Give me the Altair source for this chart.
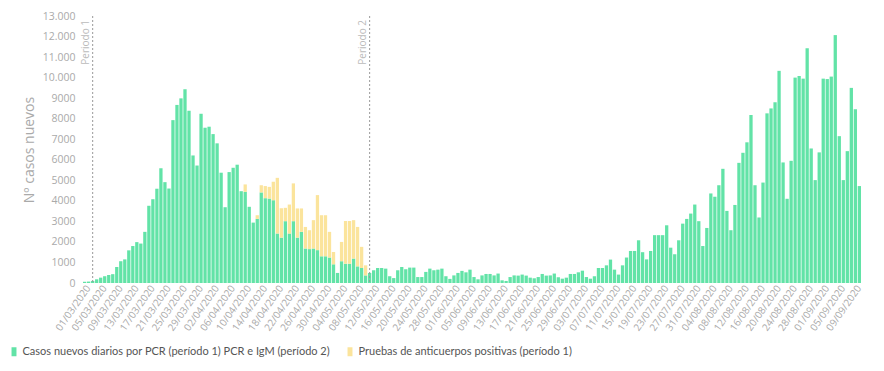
import altair as alt
import pandas as pd

# categories: one bar per day, 29/02/2020 .. 09/09/2020
fechas = [d.strftime("%d/%m/%Y") for d in pd.date_range("2020-02-29", "2020-09-09", freq="D")]
etiquetas = fechas[1::4]
ticks_y = list(range(0, 13001, 1000))

pcr = [
    60, 70, 100, 180, 260, 330, 390, 430, 780, 1060,
    1150, 1590, 1800, 1990, 1920, 2490, 3760, 4080, 4590, 5590,
    4910, 4600, 7930, 8670, 8990, 9430, 8390, 6210, 5720, 8240,
    7560, 7610, 7250, 6800, 5370, 3690, 5400, 5610, 5760, 4470,
    4440, 3710, 2940, 3120, 4410, 4130, 4110, 4030, 2410, 2210,
    3010, 2410, 3010, 2210, 2490, 1680, 1650, 1680, 1600, 1300,
    1300, 1240, 910, 490, 1060, 940, 940, 1190, 810, 730,
    370, 490, 620, 730, 730, 700, 330, 240, 620, 780,
    670, 750, 750, 290, 290, 540, 700, 620, 650, 700,
    330, 200, 370, 490, 590, 520, 650, 290, 180, 370,
    440, 440, 370, 460, 130, 100, 290, 370, 360, 410,
    360, 260, 230, 290, 440, 360, 370, 460, 280, 210,
    260, 440, 440, 520, 600, 290, 210, 330, 730, 730,
    860, 1140, 650, 410, 860, 1240, 1560, 1560, 2080, 1500,
    1150, 1560, 2330, 2330, 2330, 2810, 1720, 1400, 2080, 2890,
    3120, 3380, 3820, 3010, 1800, 2680, 4360, 4200, 4760, 5560,
    3510, 2570, 3800, 5850, 6340, 6850, 8180, 4760, 3190, 4890,
    8260, 8500, 8800, 10330, 5870, 4100, 5950, 10000, 10080, 9950,
    11430, 6550, 5010, 6360, 9950, 9930, 10050, 12070, 7150, 5010,
    6420, 9500, 8460, 4720,
]

anticuerpos = [0] * len(fechas)
anticuerpos_p1 = {
    40: 360, 43: 180, 44: 350, 45: 590, 46: 570, 47: 900, 48: 2710, 49: 1430,
    50: 650, 51: 1410, 52: 1840, 53: 1420, 54: 1140, 55: 1050, 56: 920,
    57: 1380, 58: 2680, 59: 2000, 60: 2000, 61: 1250, 62: 600, 64: 940,
    65: 2080, 66: 2080, 67: 1870, 68: 1920, 69: 1030, 70: 490,
}
for k, v in anticuerpos_p1.items():
    anticuerpos[k] = v

periodos = ["Periodo 1", "Periodo 2"]
periodo_fechas = ["02/03/2020", "10/05/2020"]

S1 = "Casos nuevos diarios por PCR (período 1) PCR e IgM (período 2)"
S2 = "Pruebas de anticuerpos positivas (período 1)"
VERDE = "#62e3a7"
AMARILLO = "#fbe49c"

rows = []
for i, f in enumerate(fechas):
    rows.append({"fecha": f, "serie": S1, "valor": pcr[i], "orden": 0})
    rows.append({"fecha": f, "serie": S2, "valor": anticuerpos[i], "orden": 1})
df = pd.DataFrame(rows)
df_p = pd.DataFrame({"fecha": periodo_fechas, "texto": periodos})

xscale = alt.Scale(domain=fechas, paddingInner=0.18, paddingOuter=0.0)
yscale = alt.Scale(domain=[0, 13000], nice=False)

xaxis = alt.Axis(values=etiquetas, labelAngle=305, title=None, domain=False,
                 ticks=False, labelColor="#aaaaaa", labelFontSize=10,
                 labelFont="Open Sans", labelPadding=3)
yaxis = alt.Axis(values=ticks_y, labelOverlap=False,
                 labelExpr="datum.value >= 10000 ? replace(format(datum.value, ','), ',', '.') : format(datum.value, 'd')",
                 grid=False, domain=False, ticks=False,
                 title="Nº casos nuevos", titleFontSize=14, titleFontWeight="normal",
                 titleColor="#aaaaaa", titleFont="Open Sans", titlePadding=6,
                 labelColor="#aaaaaa", labelFontSize=10.5, labelFont="Open Sans",
                 labelPadding=8)

bars = alt.Chart(df).mark_bar().encode(
    x=alt.X("fecha:N", scale=xscale, sort=None, axis=xaxis),
    y=alt.Y("valor:Q", stack="zero", scale=yscale, axis=yaxis),
    color=alt.Color("serie:N", scale=alt.Scale(domain=[S1, S2], range=[VERDE, AMARILLO]),
                    legend=alt.Legend(title=None, orient="none", direction="horizontal",
                                      legendX=-74.5, legendY=330,
                                      symbolType="M-0.55,-1H0.55V1H-0.55Z", symbolSize=81,
                                      symbolStrokeWidth=0, labelFontSize=11, labelFont="Lato",
                                      labelColor="#555555", labelLimit=0, labelOffset=3,
                                      columnPadding=14)),
    order=alt.Order("orden:Q"),
)

rule = alt.Chart(df_p).mark_rule(strokeDash=[2, 2], color="#999999", strokeWidth=1).encode(
    x=alt.X("fecha:N", scale=xscale, sort=None, axis=xaxis),
    y=alt.Y(datum=13000, scale=yscale, axis=yaxis),
    y2=alt.Y2(datum=0),
)

text = alt.Chart(df_p).mark_text(angle=270, align="right", baseline="bottom", fontSize=10,
                                 color="#bbbbbb", font="Open Sans", dy=-2, dx=-4).encode(
    x=alt.X("fecha:N", scale=xscale, sort=None, axis=xaxis),
    y=alt.Y(datum=13000, scale=yscale, axis=yaxis),
    text="texto:N",
)

chart = alt.layer(bars, rule, text).properties(
    width=778, height=267,
    padding={"left": 0, "top": 3, "right": 5, "bottom": 5},
    background="white",
).configure_view(stroke=None).configure_axisY(labelOverlap=False)

chart.save("out.html", embed_options={"renderer": "svg", "actions": False})
